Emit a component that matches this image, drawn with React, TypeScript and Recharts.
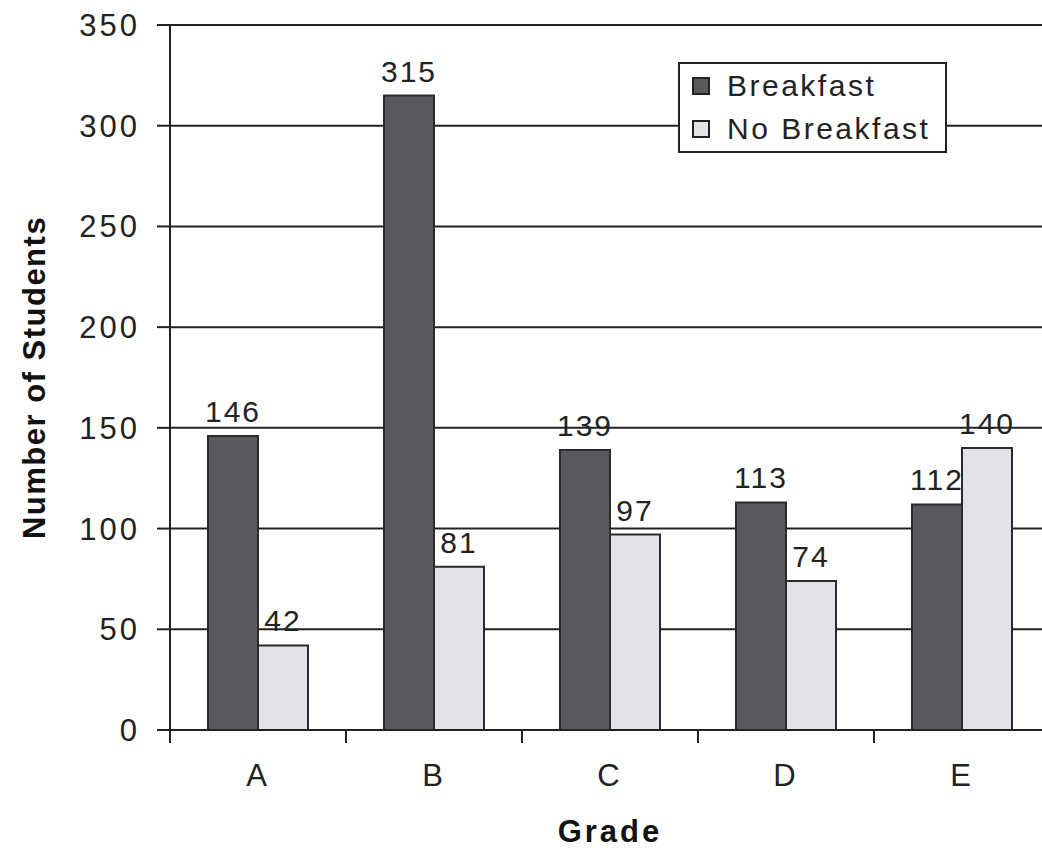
import React from 'react';
import { BarChart, Bar, XAxis, YAxis, CartesianGrid, Legend, LabelList, Label } from 'recharts';

const grades = ['A', 'B', 'C', 'D', 'E'];
const breakfast = [146, 315, 139, 113, 112];
const noBreakfast = [42, 81, 97, 74, 140];
const yTicks = [0, 50, 100, 150, 200, 250, 300, 350];

const seriesNames = ['Breakfast', 'No Breakfast'];
const seriesColors = ['#5a595e', '#e2e2e8'];

const data = grades.map((g, i) => ({
    grade: g,
    Breakfast: breakfast[i],
    'No Breakfast': noBreakfast[i],
}));

const ink = '#222';
const font = '"Liberation Sans", Arial, sans-serif';
const gradeTickMargin = 34;

const LegendBox = () => (
    <div
        style={{
            border: `2px solid ${ink}`,
            background: '#fff',
            width: 265,
            height: 87,
            boxSizing: 'content-box',
            fontSize: 30,
            letterSpacing: 2.5,
            color: ink,
            fontFamily: font,
        }}
    >
        {seriesNames.map((name, i) => (
            <div key={name} style={{ display: 'flex', alignItems: 'center', height: 43, paddingLeft: 12 }}>
                <span
                    style={{
                        display: 'inline-block',
                        width: 14,
                        height: 14,
                        background: seriesColors[i],
                        border: `2px solid ${ink}`,
                        marginRight: 17,
                    }}
                />
                <span>{name}</span>
            </div>
        ))}
    </div>
);

// label in the middle of each grade, tick mark on the boundary to its left
const GradeTick = (props: any) => {
    const { x, y, payload, width, visibleTicksCount, index } = props;
    const half = width / visibleTicksCount / 2;
    const axisY = y - gradeTickMargin;
    return (
        <g>
            <line x1={x - half} x2={x - half} y1={axisY} y2={axisY + 13} stroke={ink} strokeWidth={2} />
            {index === visibleTicksCount - 1 && (
                <line x1={x + half} x2={x + half} y1={axisY} y2={axisY + 13} stroke={ink} strokeWidth={2} />
            )}
            <text x={x} y={y} dy="0.71em" textAnchor="middle" fill={ink} fontSize={31} letterSpacing={3}>
                {payload.value}
            </text>
        </g>
    );
};

const App: React.FC = () => {
    const tickStyle = { fill: ink, fontSize: 31, letterSpacing: 3 };
    return (
        <div style={{ position: 'absolute', left: 0, top: 0, width: 1042, height: 851, overflow: 'hidden', background: '#fff', fontFamily: font }}>
            <BarChart
                width={1050}
                height={851}
                data={data}
                margin={{ top: 25, right: 0, bottom: 0, left: 0 }}
                barGap={0}
                barSize={50}
            >
                <CartesianGrid vertical={false} stroke={ink} strokeWidth={2} strokeOpacity={1} />
                <XAxis
                    dataKey="grade"
                    height={121}
                    tickSize={0}
                    tickMargin={gradeTickMargin}
                    axisLine={{ stroke: ink, strokeWidth: 2 }}
                    tickLine={false}
                    interval={0}
                    tick={<GradeTick />}
                >
                    <Label
                        content={({ viewBox }: any) => (
                            <text
                                x={viewBox.x + viewBox.width / 2}
                                y={viewBox.y + 112}
                                textAnchor="middle"
                                fontWeight="bold"
                                fontSize={31}
                                letterSpacing={3}
                                fill="#111"
                            >
                                Grade
                            </text>
                        )}
                    />
                </XAxis>
                <YAxis
                    domain={[0, 350]}
                    ticks={yTicks}
                    width={170}
                    tickSize={13}
                    tickMargin={17}
                    axisLine={{ stroke: ink, strokeWidth: 2 }}
                    tickLine={{ stroke: ink, strokeWidth: 2 }}
                    tick={tickStyle}
                >
                    <Label
                        content={({ viewBox }: any) => {
                            const cx = 34;
                            const cy = viewBox.y + viewBox.height / 2;
                            return (
                                <text
                                    x={cx}
                                    y={cy}
                                    transform={`rotate(-90, ${cx}, ${cy})`}
                                    textAnchor="middle"
                                    dominantBaseline="central"
                                    fontWeight="bold"
                                    fontSize={31}
                                    letterSpacing={1.5}
                                    fill="#111"
                                >
                                    Number of Students
                                </text>
                            );
                        }}
                    />
                </YAxis>
                <Legend
                    layout="vertical"
                    align="center"
                    verticalAlign="middle"
                    content={() => <LegendBox />}
                    wrapperStyle={{ position: 'absolute', left: 678, top: 62, width: 'auto', height: 'auto' }}
                />
                {seriesNames.map((name, i) => (
                    <Bar
                        key={name}
                        dataKey={name}
                        fill={seriesColors[i]}
                        stroke="#2b2b2b"
                        strokeWidth={2}
                        isAnimationActive={false}
                    >
                        <LabelList dataKey={name} position="top" offset={14} fill={ink} fontSize={30} letterSpacing={2} />
                    </Bar>
                ))}
            </BarChart>
        </div>
    );
};

export default App;
